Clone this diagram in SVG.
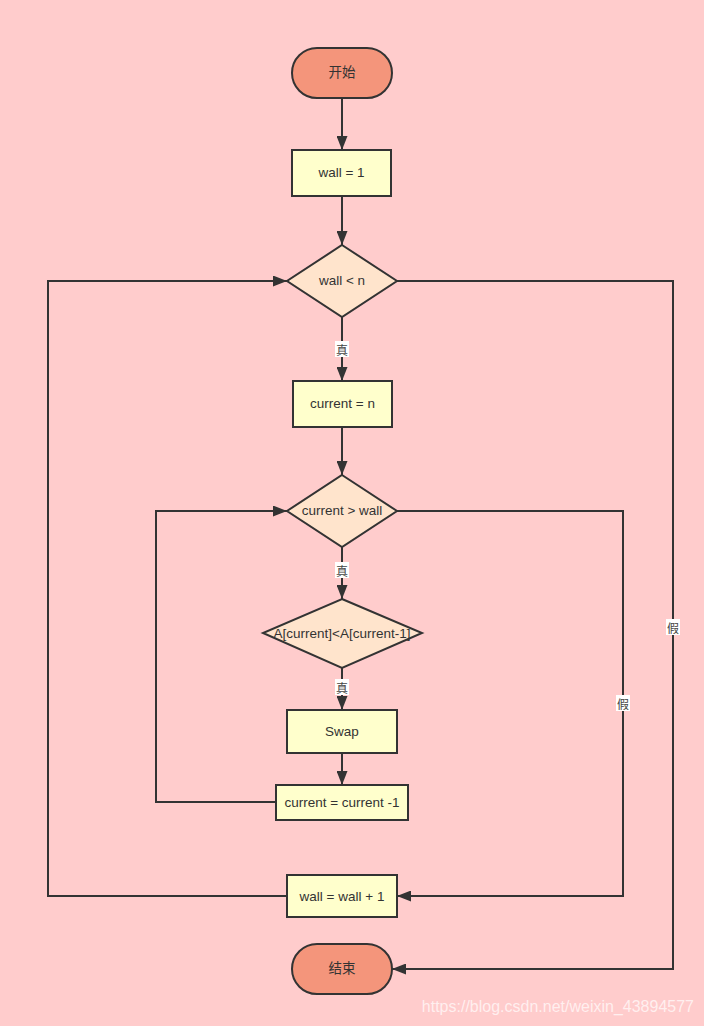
<svg xmlns="http://www.w3.org/2000/svg" width="704" height="1026" viewBox="0 0 704 1026">
<defs>
<marker id="arr" markerWidth="14" markerHeight="11" refX="14" refY="5.5" orient="auto" markerUnits="userSpaceOnUse">
<path d="M0,0 L14,5.5 L0,11 z" fill="#333"/>
</marker>
<style>
.term{fill:#F4957B;stroke:#333;stroke-width:2}
.proc{fill:#FFFFCC;stroke:#333;stroke-width:2}
.dec{fill:#FFE4CC;stroke:#333;stroke-width:2}
.t{font-family:"Liberation Sans",Arial,"Noto Sans CJK SC",sans-serif;font-size:13.5px;fill:#333;text-anchor:middle;dominant-baseline:central}
.c{fill:none;stroke:#333;stroke-width:2;marker-end:url(#arr)}
.lb{fill:#fff}
.lt{font-family:"Noto Sans CJK SC","Liberation Sans",sans-serif;font-size:12px;fill:#444;text-anchor:middle;dominant-baseline:central}
</style>
</defs>
<rect width="704" height="1026" fill="#FFCCCC"/>
<g id="connectors">
<path class="c" d="M342,98 V150"/>
<path class="c" d="M342,196 V245"/>
<path class="c" d="M342,317 V381"/>
<path class="c" d="M342,427 V475"/>
<path class="c" d="M342,547 V599"/>
<path class="c" d="M342,668 V710"/>
<path class="c" d="M342,753 V785"/>
<path class="c" d="M276,802 H156 V511 H287"/>
<path class="c" d="M397,511 H623 V896 H397"/>
<path class="c" d="M287,896 H48 V281 H287"/>
<path class="c" d="M397,281 H673 V969 H392"/>
<rect class="lb" x="335" y="341" width="14" height="16"/>
<text class="lt" x="342" y="349">真</text>
<rect class="lb" x="335" y="562" width="14" height="16"/>
<text class="lt" x="342" y="570">真</text>
<rect class="lb" x="335" y="679" width="14" height="16"/>
<text class="lt" x="342" y="687">真</text>
<rect class="lb" x="616" y="695" width="14" height="16"/>
<text class="lt" x="623" y="703">假</text>
<rect class="lb" x="666" y="619" width="14" height="16"/>
<text class="lt" x="673" y="627">假</text>
</g>
<g id="start">
<rect class="term" x="292" y="48" width="100" height="50" rx="25"/>
<text class="t" x="342" y="72">开始</text>
</g>
<g id="init">
<rect class="proc" x="292" y="150" width="99" height="46"/>
<text class="t" x="341.5" y="172">wall = 1</text>
</g>
<g id="cond1">
<polygon class="dec" points="342,245 397,281 342,317 287,281"/>
<text class="t" x="342" y="280">wall &lt; n</text>
</g>
<g id="setcur">
<rect class="proc" x="293" y="381" width="99" height="46"/>
<text class="t" x="342.5" y="403">current = n</text>
</g>
<g id="cond2">
<polygon class="dec" points="342,475 397,511 342,547 287,511"/>
<text class="t" x="342" y="510">current &gt; wall</text>
</g>
<g id="cond3">
<polygon class="dec" points="342,599 422,633 342,668 263,633"/>
<text class="t" x="342" y="633">A[current]&lt;A[current-1]</text>
</g>
<g id="swap">
<rect class="proc" x="287" y="710" width="110" height="43"/>
<text class="t" x="342" y="731">Swap</text>
</g>
<g id="dec">
<rect class="proc" x="276" y="785" width="132" height="35"/>
<text class="t" x="342" y="802">current = current -1</text>
</g>
<g id="inc">
<rect class="proc" x="287" y="875" width="110" height="42"/>
<text class="t" x="342" y="896">wall = wall + 1</text>
</g>
<g id="end">
<rect class="term" x="292" y="944" width="100" height="50" rx="25"/>
<text class="t" x="342" y="968">结束</text>
</g>
<text x="694" y="1012" font-family="'Liberation Sans',Arial,sans-serif" font-size="16" fill="#fff" fill-opacity="0.7" text-anchor="end">https://blog.csdn.net/weixin_43894577</text>
</svg>
